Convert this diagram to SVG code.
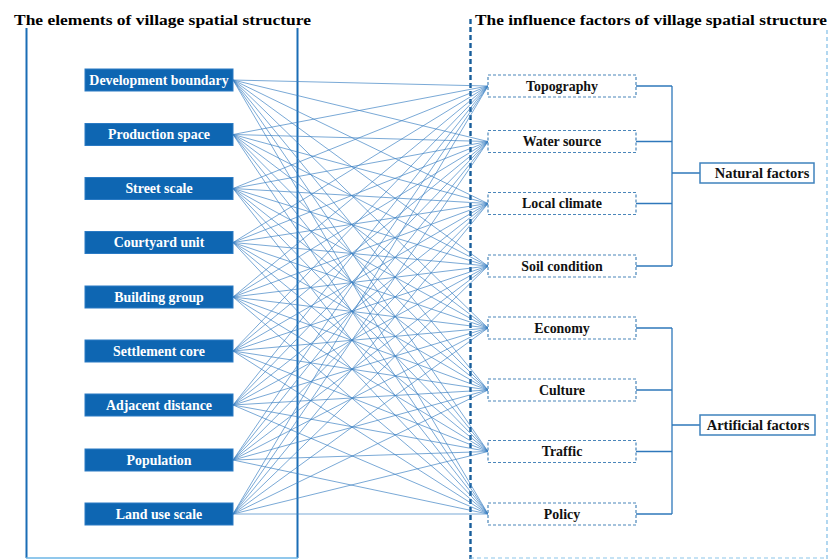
<svg xmlns="http://www.w3.org/2000/svg" width="829" height="559" viewBox="0 0 829 559">
  <style>
    .title { font-family: "Liberation Serif", "Times New Roman", serif; font-weight: bold; font-size: 15px; fill: #000; }
    .elem rect { fill: #0e66b2; stroke: #2a7ac4; stroke-width: 1; }
    .elem text { font-family: "Liberation Serif", "Times New Roman", serif; font-weight: bold; font-size: 13.9px; fill: #fff; text-anchor: middle; }
    .factor rect { fill: #fff; stroke: #4a86ba; stroke-width: 1.2; stroke-dasharray: 3 2; }
    .factor text { font-family: "Liberation Serif", "Times New Roman", serif; font-weight: bold; font-size: 13.9px; fill: #111; text-anchor: middle; }
    .group rect { fill: #fff; stroke: #3f82bd; stroke-width: 1.5; }
    .group text { font-family: "Liberation Serif", "Times New Roman", serif; font-weight: bold; font-size: 14.5px; fill: #111; text-anchor: middle; }
    .links line { stroke: #3a80c2; stroke-width: 0.8; stroke-opacity: 0.85; }
    .bracket { fill: none; stroke: #2f78bb; stroke-width: 1.3; }
  </style>

  <rect width="829" height="559" fill="#fff"/>

  <!-- frames -->
  <g id="frames">
    <line x1="26.5" y1="28" x2="26.5" y2="558" stroke="#1a6db5" stroke-width="2"/>
    <line x1="297.5" y1="28" x2="297.5" y2="558" stroke="#1a6db5" stroke-width="2"/>
    <line x1="26" y1="558" x2="298" y2="558" stroke="#6cb6e6" stroke-width="1.5"/>
    <line x1="470.5" y1="19" x2="470.5" y2="559" stroke="#175d9a" stroke-width="2.4" stroke-dasharray="5 3"/>
    <line x1="827" y1="30" x2="827" y2="559" stroke="#7fbde6" stroke-width="1.2" stroke-dasharray="4 3"/>
    <line x1="470" y1="558" x2="827" y2="558" stroke="#8cc6ea" stroke-width="1.2" stroke-dasharray="4 3"/>
  </g>

  <!-- headings -->
  <text class="title" x="14" y="25" textLength="297" lengthAdjust="spacingAndGlyphs">The elements of village spatial structure</text>
  <text class="title" x="475" y="25" textLength="352" lengthAdjust="spacingAndGlyphs">The influence factors of village spatial structure</text>

  <!-- connectors: every element to every factor -->
  <g id="connectors" class="links">
    <line x1="233" y1="80" x2="488" y2="86"/>
    <line x1="233" y1="80" x2="488" y2="141.5"/>
    <line x1="233" y1="80" x2="488" y2="203.5"/>
    <line x1="233" y1="80" x2="488" y2="266"/>
    <line x1="233" y1="80" x2="488" y2="328"/>
    <line x1="233" y1="80" x2="488" y2="390"/>
    <line x1="233" y1="80" x2="488" y2="451.5"/>
    <line x1="233" y1="80" x2="488" y2="514"/>
    <line x1="233" y1="134.5" x2="488" y2="86"/>
    <line x1="233" y1="134.5" x2="488" y2="141.5"/>
    <line x1="233" y1="134.5" x2="488" y2="203.5"/>
    <line x1="233" y1="134.5" x2="488" y2="266"/>
    <line x1="233" y1="134.5" x2="488" y2="328"/>
    <line x1="233" y1="134.5" x2="488" y2="390"/>
    <line x1="233" y1="134.5" x2="488" y2="451.5"/>
    <line x1="233" y1="134.5" x2="488" y2="514"/>
    <line x1="233" y1="188.5" x2="488" y2="86"/>
    <line x1="233" y1="188.5" x2="488" y2="141.5"/>
    <line x1="233" y1="188.5" x2="488" y2="203.5"/>
    <line x1="233" y1="188.5" x2="488" y2="266"/>
    <line x1="233" y1="188.5" x2="488" y2="328"/>
    <line x1="233" y1="188.5" x2="488" y2="390"/>
    <line x1="233" y1="188.5" x2="488" y2="451.5"/>
    <line x1="233" y1="188.5" x2="488" y2="514"/>
    <line x1="233" y1="242.5" x2="488" y2="86"/>
    <line x1="233" y1="242.5" x2="488" y2="141.5"/>
    <line x1="233" y1="242.5" x2="488" y2="203.5"/>
    <line x1="233" y1="242.5" x2="488" y2="266"/>
    <line x1="233" y1="242.5" x2="488" y2="328"/>
    <line x1="233" y1="242.5" x2="488" y2="390"/>
    <line x1="233" y1="242.5" x2="488" y2="451.5"/>
    <line x1="233" y1="242.5" x2="488" y2="514"/>
    <line x1="233" y1="297" x2="488" y2="86"/>
    <line x1="233" y1="297" x2="488" y2="141.5"/>
    <line x1="233" y1="297" x2="488" y2="203.5"/>
    <line x1="233" y1="297" x2="488" y2="266"/>
    <line x1="233" y1="297" x2="488" y2="328"/>
    <line x1="233" y1="297" x2="488" y2="390"/>
    <line x1="233" y1="297" x2="488" y2="451.5"/>
    <line x1="233" y1="297" x2="488" y2="514"/>
    <line x1="233" y1="351" x2="488" y2="86"/>
    <line x1="233" y1="351" x2="488" y2="141.5"/>
    <line x1="233" y1="351" x2="488" y2="203.5"/>
    <line x1="233" y1="351" x2="488" y2="266"/>
    <line x1="233" y1="351" x2="488" y2="328"/>
    <line x1="233" y1="351" x2="488" y2="390"/>
    <line x1="233" y1="351" x2="488" y2="451.5"/>
    <line x1="233" y1="351" x2="488" y2="514"/>
    <line x1="233" y1="405" x2="488" y2="86"/>
    <line x1="233" y1="405" x2="488" y2="141.5"/>
    <line x1="233" y1="405" x2="488" y2="203.5"/>
    <line x1="233" y1="405" x2="488" y2="266"/>
    <line x1="233" y1="405" x2="488" y2="328"/>
    <line x1="233" y1="405" x2="488" y2="390"/>
    <line x1="233" y1="405" x2="488" y2="451.5"/>
    <line x1="233" y1="405" x2="488" y2="514"/>
    <line x1="233" y1="460" x2="488" y2="86"/>
    <line x1="233" y1="460" x2="488" y2="141.5"/>
    <line x1="233" y1="460" x2="488" y2="203.5"/>
    <line x1="233" y1="460" x2="488" y2="266"/>
    <line x1="233" y1="460" x2="488" y2="328"/>
    <line x1="233" y1="460" x2="488" y2="390"/>
    <line x1="233" y1="460" x2="488" y2="451.5"/>
    <line x1="233" y1="460" x2="488" y2="514"/>
    <line x1="233" y1="514" x2="488" y2="86"/>
    <line x1="233" y1="514" x2="488" y2="141.5"/>
    <line x1="233" y1="514" x2="488" y2="203.5"/>
    <line x1="233" y1="514" x2="488" y2="266"/>
    <line x1="233" y1="514" x2="488" y2="328"/>
    <line x1="233" y1="514" x2="488" y2="390"/>
    <line x1="233" y1="514" x2="488" y2="451.5"/>
    <line x1="233" y1="514" x2="488" y2="514"/>
  </g>

  <!-- group brackets -->
  <g id="brackets">
    <path class="bracket" d="M636 86H672M636 141.5H672M636 203.5H672M636 266H672M672 86V266M672 173H700"/>
    <path class="bracket" d="M636 328H672M636 390H672M636 451.5H672M636 514H672M672 328V514M672 425H700"/>
  </g>

  <!-- spatial structure elements -->
  <g id="el-development-boundary" class="elem"><rect x="85" y="69" width="148" height="22"/><text x="159" y="84.5">Development boundary</text></g>
  <g id="el-production-space" class="elem"><rect x="85" y="123.5" width="148" height="22"/><text x="159" y="139">Production space</text></g>
  <g id="el-street-scale" class="elem"><rect x="85" y="177.5" width="148" height="22"/><text x="159" y="193">Street scale</text></g>
  <g id="el-courtyard-unit" class="elem"><rect x="85" y="231.5" width="148" height="22"/><text x="159" y="247">Courtyard unit</text></g>
  <g id="el-building-group" class="elem"><rect x="85" y="286" width="148" height="22"/><text x="159" y="301.5">Building group</text></g>
  <g id="el-settlement-core" class="elem"><rect x="85" y="340" width="148" height="22"/><text x="159" y="355.5">Settlement core</text></g>
  <g id="el-adjacent-distance" class="elem"><rect x="85" y="394" width="148" height="22"/><text x="159" y="409.5">Adjacent distance</text></g>
  <g id="el-population" class="elem"><rect x="85" y="449" width="148" height="22"/><text x="159" y="464.5">Population</text></g>
  <g id="el-land-use-scale" class="elem"><rect x="85" y="503" width="148" height="22"/><text x="159" y="518.5">Land use scale</text></g>

  <!-- influence factors -->
  <g id="f-topography" class="factor"><rect x="488" y="75" width="148" height="22"/><text x="562" y="90.5">Topography</text></g>
  <g id="f-water-source" class="factor"><rect x="488" y="130.5" width="148" height="22"/><text x="562" y="146">Water source</text></g>
  <g id="f-local-climate" class="factor"><rect x="488" y="192.5" width="148" height="22"/><text x="562" y="208">Local climate</text></g>
  <g id="f-soil-condition" class="factor"><rect x="488" y="255" width="148" height="22"/><text x="562" y="270.5">Soil condition</text></g>
  <g id="f-economy" class="factor"><rect x="488" y="317" width="148" height="22"/><text x="562" y="332.5">Economy</text></g>
  <g id="f-culture" class="factor"><rect x="488" y="379" width="148" height="22"/><text x="562" y="394.5">Culture</text></g>
  <g id="f-traffic" class="factor"><rect x="488" y="440.5" width="148" height="22"/><text x="562" y="456">Traffic</text></g>
  <g id="f-policy" class="factor"><rect x="488" y="503" width="148" height="22"/><text x="562" y="518.5">Policy</text></g>

  <!-- factor groups -->
  <g id="g-natural" class="group"><rect x="700" y="163" width="114" height="20"/><text x="762" y="178">Natural factors</text></g>
  <g id="g-artificial" class="group"><rect x="700" y="415" width="115" height="20"/><text x="758" y="430">Artificial factors</text></g>
</svg>
